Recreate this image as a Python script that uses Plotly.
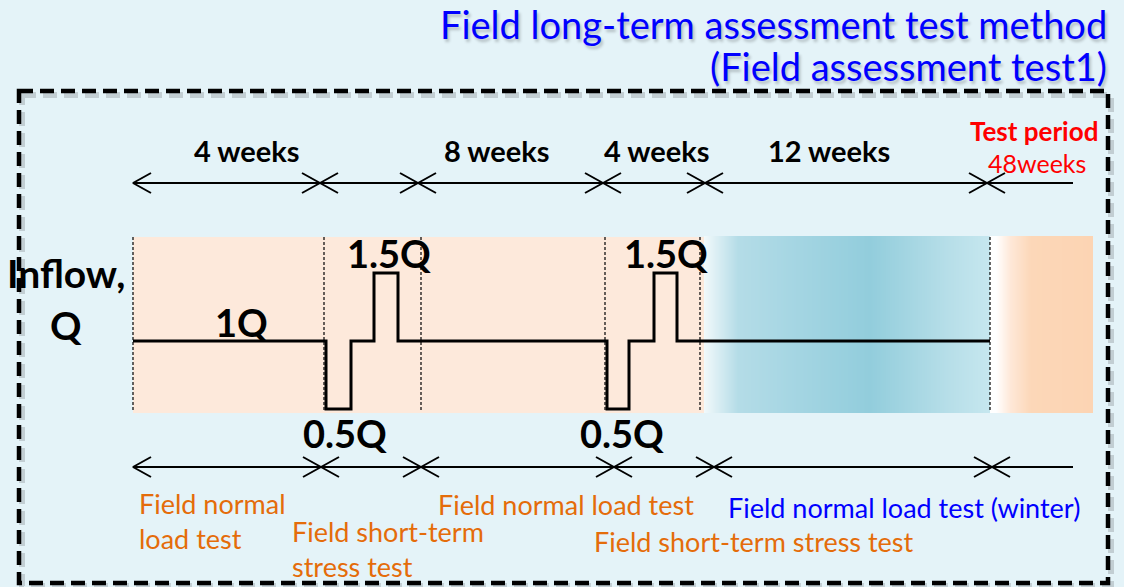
import plotly.graph_objects as go
import numpy as np

# ---- data (schematic positions on the diagram's horizontal scale) ----
period_labels = ["4 weeks", "8 weeks", "4 weeks", "12 weeks"]
period_label_x = [247, 497, 657, 829]
top_edges = [133, 320, 418, 603, 705, 987]
bottom_edges = [133, 321, 421, 614, 714, 992]
line_end = 1073
section_guides = [133, 324, 421, 605, 700, 990]

# inflow step profile (x position, Q multiple)
flow_x = [133, 326, 326, 351, 351, 374, 374, 398, 398, 607, 607, 629, 629, 654, 654, 677, 677, 990]
flow_q = [1.0, 1.0, 0.5, 0.5, 1.0, 1.0, 1.5, 1.5, 1.0, 1.0, 0.5, 0.5, 1.0, 1.0, 1.5, 1.5, 1.0, 1.0]

q_labels = ["1Q", "1.5Q", "1.5Q", "0.5Q", "0.5Q"]
q_label_x = [241, 389, 666, 345, 622]
q_label_q = [1.14, 1.65, 1.65, 0.32, 0.32]

W, H = 1124, 587
BG = "#e4f3f8"
FONT = "Lato"

fig = go.Figure()

# shaded regions
fig.add_shape(type="rect", x0=133, x1=705, y0=237, y1=413, fillcolor="#fde9db",
              line_width=0, layer="below")

# blue gradient (winter)
bx = np.linspace(704, 990, 287)
fig.add_trace(go.Heatmap(x=bx, y=[236, 413], z=[(bx[:-1] + bx[1:]) / 2],
                         zmin=704, zmax=990, showscale=False, hoverinfo="skip",
                         colorscale=[[0, "#f2f9fb"], [0.12, "#b4dce7"], [0.3, "#a6d6e3"],
                                     [0.58, "#92cddc"], [0.85, "#b6dee8"], [1, "#c6e7ef"]]))
# orange gradient (end)
ox = np.linspace(990, 1093, 104)
fig.add_trace(go.Heatmap(x=ox, y=[236, 413], z=[(ox[:-1] + ox[1:]) / 2],
                         zmin=990, zmax=1093, showscale=False, hoverinfo="skip",
                         colorscale=[[0, "#ffffff"], [0.06, "#ffffff"], [0.2, "#fee8d8"],
                                     [0.4, "#fcd7b8"], [1, "#fcd4b3"]]))

# guide dashed lines
for gx in section_guides:
    fig.add_shape(type="line", x0=gx, x1=gx, y0=237, y1=411,
                  line=dict(color="black", width=1.2, dash="3px,2px"))

# inflow line on Q axis
fig.add_trace(go.Scatter(x=flow_x, y=flow_q, yaxis="y2", mode="lines",
                         line=dict(color="black", width=3), hoverinfo="skip",
                         showlegend=False))

# arrows
def arrow_row(edges, y):
    xs, ys = [], []
    xs += [edges[0], line_end, None]; ys += [y, y, None]
    hl, hh = 18, 10
    for i, b in enumerate(edges):
        xs += [b + hl, b, b + hl, None]; ys += [y - hh, y, y + hh, None]
        if i > 0:
            xs += [b - hl, b, b - hl, None]; ys += [y - hh, y, y + hh, None]
    fig.add_trace(go.Scatter(x=xs, y=ys, mode="lines", line=dict(color="black", width=2),
                             hoverinfo="skip", showlegend=False))

arrow_row(top_edges, 183)
arrow_row(bottom_edges, 467)

ann = []
def txt(x, y, s, size, color="black", bold=False, xanchor="center", align="center",
        yref="y", shadow=None):
    f = dict(family=FONT, size=size, color=color)
    if bold:
        f["weight"] = "bold"
    if shadow:
        f["shadow"] = shadow
    ann.append(dict(x=x, y=y, xref="x", yref=yref, text=s, showarrow=False, font=f,
                    xanchor=xanchor, yanchor="middle", align=align))

sh = "2px 3px 3px rgba(0,0,0,0.22)"
txt(1109, 24, "Field long-term assessment test method", 38, "#0000ff", xanchor="right", shadow=sh)
txt(1109, 66, "(Field assessment test1)", 38, "#0000ff", xanchor="right", shadow=sh)

for s, x in zip(period_labels, period_label_x):
    txt(x, 150, s, 29, bold=True)
txt(1034, 131, "Test period", 26, "#ff0000", bold=True)
txt(1037, 163, "48weeks", 25, "#ff0000")

txt(66, 273, "Inflow,", 39, bold=True)
txt(66, 325, "Q", 39, bold=True)
for s, x, q in zip(q_labels, q_label_x, q_label_q):
    txt(x, q, s, 38, bold=True, yref="y2")

OR = "#e46c0a"
txt(137, 521, "Field normal<br>load test", 27, OR, xanchor="left", align="left")
txt(290, 549, "Field short-term<br>stress test", 27, OR, xanchor="left", align="left")
txt(436, 504, "Field normal load test", 27, OR, xanchor="left")
txt(592, 541, "Field short-term stress test", 27, OR, xanchor="left")
txt(726, 507, "Field normal load test (winter)", 27, "#0000ff", xanchor="left")

# dashed frame with faint shadow
fig.add_shape(type="rect", x0=22, x1=1111, y0=95, y1=586,
              line=dict(color="rgba(0,0,0,0.15)", width=6, dash="14px,7px"))
fig.add_shape(type="rect", x0=19, x1=1108, y0=91, y1=583,
              line=dict(color="black", width=4.5, dash="14px,7px"))

# Q axis mapping: 1Q at y=341px, 0.5Q step = 68px
q_top = 1 + 341 / 136
q_bot = 1 - (H - 341) / 136

fig.update_layout(
    width=W, height=H, margin=dict(l=0, r=0, t=0, b=0),
    paper_bgcolor=BG, plot_bgcolor=BG, showlegend=False,
    xaxis=dict(range=[0, W], visible=False, fixedrange=True),
    yaxis=dict(range=[H, 0], visible=False, fixedrange=True),
    yaxis2=dict(range=[q_bot, q_top], overlaying="y", visible=False, fixedrange=True),
    annotations=ann,
)
fig.write_html("out.html", config={"displayModeBar": False})

# remove default page margin so the figure fills the window exactly
with open("out.html", encoding="utf-8") as fh:
    page = fh.read()
page = page.replace("<head>", "<head><style>html,body{margin:0;padding:0;overflow:hidden;background:%s}</style>" % BG, 1)
with open("out.html", "w", encoding="utf-8") as fh:
    fh.write(page)
